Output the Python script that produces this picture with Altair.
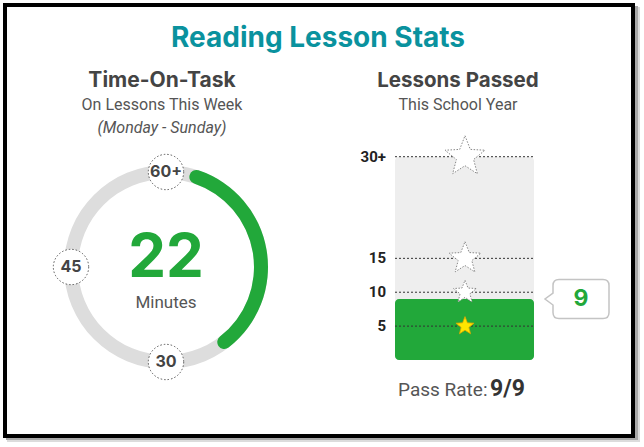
import math
import altair as alt
import pandas as pd

# ---------------- data ----------------
TITLE = "Reading Lesson Stats"
LEFT_TITLE = "Time-On-Task"
LEFT_SUB1 = "On Lessons This Week"
LEFT_SUB2 = "(Monday - Sunday)"
RIGHT_TITLE = "Lessons Passed"
RIGHT_SUB = "This School Year"

MINUTES = 22
RING_MAX = 60
ARC_GAP = 2.4                      # visual gap after the "60+" marker (minutes)
RING_TICKS = [60, 45, 30]
RING_TICK_LABELS = ["60+", "45", "30"]

LESSONS = 9
LESSON_MAX = 30
MILESTONES = [5, 10, 15, 30]
MILESTONE_LABELS = ["5", "10", "15", "30+"]
PASSED = 9
ATTEMPTED = 9

# ---------------- layout / style ----------------
W, H = 644, 447
CX, CY, RMID, RW = 166, 267, 95, 14
GREEN = "#22A83A"
TEAL = "#0A929E"
DARK = "#444444"
GREYTXT = "#555555"
HEAD_FONT = "Inter"
BODY_FONT = "Roboto"
BAR_X0, BAR_X1 = 395, 534
STAR_SIZES = [361, 576, 1115, 1764]

def star_path(inner=0.43):
    pts = []
    for k in range(10):
        a = math.radians(-90 + 36 * k)
        r = 1.0 if k % 2 == 0 else inner
        pts.append((r * math.cos(a), r * math.sin(a)))
    return "M" + " L".join(f"{x:.4f},{y:.4f}" for x, y in pts) + " Z"

STAR = star_path()

# callout bubble path in pixel units (scale factor 1 -> size 4)
CALLOUT = ("M -22,-19.5 L 22,-19.5 Q 28,-19.5 28,-13.5 L 28,13.5 Q 28,19.5 22,19.5 "
           "L -22,19.5 Q -28,19.5 -28,13.5 L -28,6 L -36,0 L -28,-6 L -28,-13.5 "
           "Q -28,-19.5 -22,-19.5 Z")

one = pd.DataFrame({"k": [0]})

def box(x0, y0, x1, y1, **kw):
    return alt.Chart(one).mark_rect(**kw).encode(
        x=alt.value(x0), x2=alt.value(x1), y=alt.value(y0), y2=alt.value(y1))

def label(txt, x, y, size, color, font, weight="normal", style="normal", align="center"):
    return alt.Chart(pd.DataFrame({"t": [txt]})).mark_text(
        fontSize=size, color=color, font=font, fontWeight=weight, fontStyle=style,
        align=align, baseline="alphabetic").encode(
        text="t:N", x=alt.value(x), y=alt.value(y))

# frame
shadow1 = box(7, 7, 640, 442, fill="#dcdcdc")
shadow2 = box(6, 6, 638, 440, fill="#a8a8a8")
panel = box(5, 5, 633, 436, fill="white", stroke="black", strokeWidth=4)

# titles
t_main = label(TITLE, 318, 47, 28, TEAL, HEAD_FONT, "bold")
t_left = label(LEFT_TITLE, 162, 87, 21, DARK, HEAD_FONT, "bold")
t_left1 = label(LEFT_SUB1, 162, 110, 16, GREYTXT, BODY_FONT)
t_left2 = label(LEFT_SUB2, 162, 133, 16, GREYTXT, BODY_FONT, style="italic")
t_right = label(RIGHT_TITLE, 458, 87, 20.5, DARK, HEAD_FONT, "bold")
t_right1 = label(RIGHT_SUB, 458, 110, 16, GREYTXT, BODY_FONT)

# ring
theta_scale = alt.Scale(domain=[0, RING_MAX], range=[0, 2 * math.pi])
ring_df = pd.DataFrame({"s": [0], "e": [RING_MAX]})
ring = alt.Chart(ring_df).mark_arc(
    innerRadius=RMID - RW / 2, outerRadius=RMID + RW / 2, color="#DDDDDD").encode(
    theta=alt.Theta("s:Q", scale=theta_scale, stack=None), theta2="e:Q",
    x=alt.value(CX), y=alt.value(CY))

arc_df = pd.DataFrame({"gap": [ARC_GAP], "m": [MINUTES]})
arc = alt.Chart(arc_df).transform_calculate(e="datum.gap + datum.m").mark_arc(
    innerRadius=RMID - RW / 2, outerRadius=RMID + RW / 2, color=GREEN,
    cornerRadius=RW / 2).encode(
    theta=alt.Theta("gap:Q", scale=theta_scale, stack=None), theta2="e:Q",
    x=alt.value(CX), y=alt.value(CY))

tick_df = pd.DataFrame({"m": RING_TICKS, "lab": RING_TICK_LABELS})
tick_base = alt.Chart(tick_df).transform_calculate(
    px=f"{CX} + {RMID} * sin(datum.m / {RING_MAX} * 2 * PI)",
    py=f"{CY} - {RMID} * cos(datum.m / {RING_MAX} * 2 * PI)")
tick_circ = tick_base.mark_point(
    shape="circle", filled=True, fill="white", stroke="#555555", strokeWidth=1,
    strokeDash=[1.5, 2], size=1250, opacity=1).encode(
    x=alt.X("px:Q", scale=None), y=alt.Y("py:Q", scale=None))
tick_txt = tick_base.mark_text(
    fontSize=16, fontWeight="bold", font=HEAD_FONT, color=DARK, baseline="middle").encode(
    x=alt.X("px:Q", scale=None), y=alt.Y("py:Q", scale=None), text="lab:N")

big = label(str(MINUTES), CX, 277, 60, GREEN, HEAD_FONT, "bold")
mins = label("Minutes", CX, 308, 17, GREYTXT, BODY_FONT)

# lessons bar
yscale = alt.Scale(domain=[0, LESSON_MAX], range=[360, 156.7])
bg = alt.Chart(pd.DataFrame({"lo": [0], "hi": [LESSON_MAX]})).mark_bar(
    color="#EEEEEE", cornerRadius=4).encode(
    y=alt.Y("lo:Q", scale=yscale, axis=None), y2="hi:Q",
    x=alt.value(BAR_X0), x2=alt.value(BAR_X1))
fg = alt.Chart(pd.DataFrame({"lo": [0], "hi": [LESSONS]})).mark_bar(
    color=GREEN, cornerRadius=4).encode(
    y=alt.Y("lo:Q", scale=yscale, axis=None), y2="hi:Q",
    x=alt.value(BAR_X0), x2=alt.value(BAR_X1))

ms_df = pd.DataFrame({"m": MILESTONES, "lab": MILESTONE_LABELS})
rules = alt.Chart(ms_df).mark_rule(
    color="#333333", strokeDash=[2, 2], strokeWidth=1).encode(
    y=alt.Y("m:Q", scale=yscale, axis=None),
    x=alt.value(BAR_X0), x2=alt.value(BAR_X1))
ms_lab = alt.Chart(ms_df).mark_text(
    align="right", baseline="middle", fontSize=15, fontWeight="bold",
    font=BODY_FONT, color="#222222").encode(
    y=alt.Y("m:Q", scale=yscale, axis=None), x=alt.value(386), text="lab:N")

size_scale = alt.Scale(type="ordinal", domain=MILESTONE_LABELS, range=STAR_SIZES)
stars_base = alt.Chart(ms_df).transform_calculate(done=f"datum.m <= {LESSONS}")
stars_off = stars_base.transform_filter("!datum.done").mark_point(
    shape=STAR, filled=True, fill="white", stroke="#888888", strokeWidth=1,
    strokeDash=[1.5, 1.5], opacity=1).encode(
    y=alt.Y("m:Q", scale=yscale, axis=None), x=alt.value(465),
    size=alt.Size("lab:N", scale=size_scale, legend=None))
stars_on = stars_base.transform_filter("datum.done").mark_point(
    shape=STAR, filled=True, fill="#FFE600", stroke="#D9A400", strokeWidth=0.8,
    opacity=1).encode(
    y=alt.Y("m:Q", scale=yscale, axis=None), x=alt.value(465),
    size=alt.Size("lab:N", scale=size_scale, legend=None))

call_df = pd.DataFrame({"v": [LESSONS], "t": [str(LESSONS)]})
callout = alt.Chart(call_df).mark_point(
    shape=CALLOUT, size=4, filled=True, fill="white", stroke="#C4C4C4",
    strokeWidth=1.5, opacity=1).encode(
    y=alt.Y("v:Q", scale=yscale, axis=None), x=alt.value(581))
call_txt = alt.Chart(call_df).mark_text(
    fontSize=23, fontWeight="bold", font=HEAD_FONT, color=GREEN, baseline="middle").encode(
    y=alt.Y("v:Q", scale=yscale, axis=None), x=alt.value(581), text="t:N")

pr1 = label("Pass Rate:", 398, 396, 19, GREYTXT, BODY_FONT, align="left")
pr2 = label(f"{PASSED}/{ATTEMPTED}", 490, 396, 23, "#333333", BODY_FONT, "bold", align="left")

chart = alt.layer(
    shadow1, shadow2, panel,
    t_main, t_left, t_left1, t_left2, t_right, t_right1,
    ring, arc, tick_circ, tick_txt, big, mins,
    bg, fg, rules, stars_off, stars_on, ms_lab, callout, call_txt,
    pr1, pr2,
).properties(width=W, height=H, padding=0, autosize="none", background="white"
).configure_view(strokeWidth=0)

chart.save("out.html", embed_options={"renderer": "svg", "actions": False})
